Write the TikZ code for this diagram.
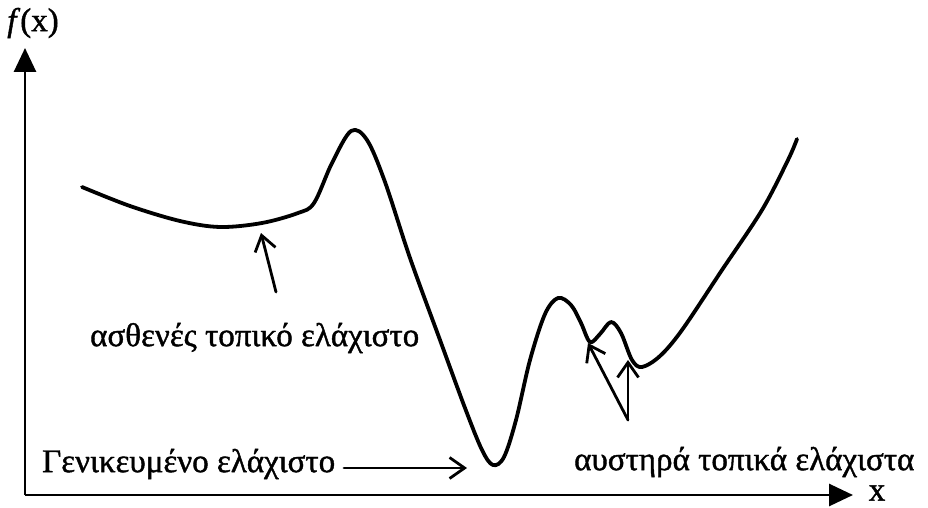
\documentclass[tikz,border=0pt]{standalone}
\usepackage{fontspec}
\setmainfont{Liberation Serif}
\newfontfamily\thickserif[FakeBold=1.2]{Liberation Serif}
\usetikzlibrary{arrows.meta}
\begin{document}
\begin{tikzpicture}[x=1pt,y=-1pt,
  curveline/.style={line width=3.8pt,line cap=round,line join=round},
  axisline/.style={line width=2.8pt,-{Triangle[length=24pt,width=22pt]}},
  pointer/.style={line width=2.8pt,line cap=round,-{Straight Barb[length=15pt,width=21pt,line width=2.8pt]}},
  lbl/.style={font=\thickserif\fontsize{33}{36}\selectfont,inner sep=0pt}]
\useasboundingbox (0,0) rectangle (928,508);
% axes
\coordinate (O) at (25,495);
\coordinate (ytip) at (25,48);
\coordinate (xtip) at (853,495);
\draw[axisline] (O) -- (ytip);
\draw[axisline] (O) -- (xtip);
\node[lbl,anchor=center] (fx) at (33,23) {\textit{f}(x)};
\node[lbl,anchor=center] (xl) at (877,493) {x};
% curve
\draw[curveline] plot[smooth,tension=0.55] coordinates {
(82,187) (130,206) (180,221) (220,227) (262,223) (298,213) (314,203)
(332,163) (351,131) (367,140) (385,182) (410,258) (440,340) (465,408)
(482,450) (493,465) (504,457) (516,420) (530,360) (545,314) (558,298)
(571,305) (581,323) (590,342) (600,334) (611,322) (621,333) (632,360)
(642,367) (660,356) (682,330) (722,270) (762,210) (788,160) (797,139)};
% labels
\node[lbl,anchor=west] (weak) at (90,338) {ασθενές τοπικό ελάχιστο};
\node[lbl,anchor=west] (glob) at (42,464) {Γενικευμένο ελάχιστο};
\node[lbl,anchor=west] (strict) at (574,462) {αυστηρά τοπικά ελάχιστα};
% pointers
\coordinate (wtail) at (276,292);
\coordinate (wtip) at (261,233);
\draw[pointer] (wtail) -- (wtip);
\coordinate (gtail) at (344,468);
\coordinate (gtip) at (467,468);
\draw[pointer] (gtail) -- (gtip);
\coordinate (stail) at (628,420);
\coordinate (stip1) at (588,343);
\coordinate (stip2) at (628,360);
\draw[pointer] (stail) -- (stip1);
\draw[pointer] (stail) -- (stip2);
\end{tikzpicture}
\end{document}
